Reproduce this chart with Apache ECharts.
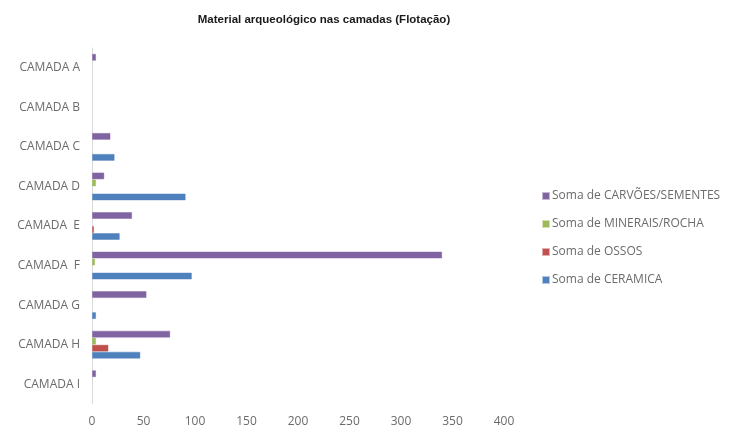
<!DOCTYPE html>
<html>
<head>
<meta charset="utf-8">
<script src="https://cdn.jsdelivr.net/npm/echarts@6/dist/echarts.min.js"></script>
<style>
  html, body { margin: 0; padding: 0; background: #ffffff; }
  #chart { width: 738px; height: 438px; }
</style>
</head>
<body>
<div id="chart"></div>
<script>
// Layers (top to bottom)
const camadas = ['CAMADA A', 'CAMADA B', 'CAMADA C', 'CAMADA D', 'CAMADA  E', 'CAMADA  F', 'CAMADA G', 'CAMADA H', 'CAMADA I'];

// Sums per material class, one value per layer
const carvoesSementes = [4, 0, 18, 12, 39, 340, 53, 76, 4];
const mineraisRocha   = [0, 0, 0, 4, 0, 3, 0, 4, 0];
const ossos           = [0, 0, 0, 0, 2, 0, 0, 16, 0];
const ceramica        = [0, 0, 22, 91, 27, 97, 4, 47, 0];

const xTicks = { min: 0, max: 400, interval: 50 };

const labelFont = '"Open Sans", Lato, sans-serif';
const grey = '#6b6b6b';

function barSeries(name, data, color) {
  return {
    name: name,
    type: 'bar',
    data: data.map(v => (v === 0 ? null : v)),
    barWidth: 7,
    barGap: '0%',
    itemStyle: {
      color: color,
      borderColor: echarts.color.modifyAlpha(color, 0.45),
      borderWidth: 1
    },
    emphasis: { disabled: true }
  };
}

const chart = echarts.init(document.getElementById('chart'), null, { renderer: 'canvas' });

chart.setOption({
  animation: false,
  backgroundColor: '#ffffff',
  title: {
    text: 'Material arqueológico nas camadas (Flotação)',
    left: 319,
    textAlign: 'center',
    top: 9,
    textStyle: {
      fontFamily: 'Liberation Sans, Arial, sans-serif',
      fontWeight: 'bold',
      fontSize: 11.5,
      color: '#1a1a1a'
    }
  },
  legend: {
    orient: 'vertical',
    left: 537,
    top: 185,
    itemWidth: 6,
    itemHeight: 6,
    itemGap: 16,
    icon: 'rect',
    textStyle: { fontFamily: labelFont, fontSize: 12, color: grey, padding: [0, 0, 0, -2] },
    data: ['Soma de CARVÕES/SEMENTES', 'Soma de MINERAIS/ROCHA', 'Soma de OSSOS', 'Soma de CERAMICA']
  },
  grid: { left: 92, right: 234, top: 48, bottom: 34, containLabel: false },
  xAxis: {
    type: 'value',
    min: xTicks.min,
    max: xTicks.max,
    interval: xTicks.interval,
    axisLine: { show: false },
    axisTick: { show: false },
    splitLine: { show: false },
    axisLabel: { fontFamily: labelFont, fontSize: 12, color: grey, margin: 12 }
  },
  yAxis: {
    type: 'category',
    data: camadas,
    inverse: true,
    axisLine: { show: true, lineStyle: { color: '#d9d9d9', width: 1 } },
    axisTick: { show: false },
    axisLabel: { fontFamily: labelFont, fontSize: 12, color: grey, margin: 12 }
  },
  series: [
    barSeries('Soma de CARVÕES/SEMENTES', carvoesSementes, '#8064a2'),
    barSeries('Soma de MINERAIS/ROCHA', mineraisRocha, '#9bbb59'),
    barSeries('Soma de OSSOS', ossos, '#c0504d'),
    barSeries('Soma de CERAMICA', ceramica, '#4f81bd')
  ]
});
</script>
</body>
</html>
